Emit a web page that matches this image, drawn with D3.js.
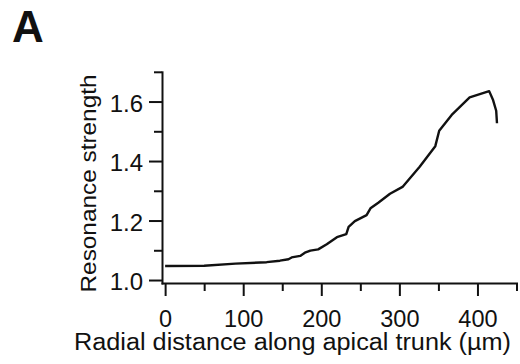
<!DOCTYPE html>
<html>
<head>
<meta charset="utf-8">
<script src="https://cdn.jsdelivr.net/npm/d3@7"></script>
<style>
    body { margin: 0; background: #fff; }
    svg { display: block; }
    text { font-family: "Liberation Sans", Arial, Helvetica, sans-serif; fill: #111; }
</style>
</head>
<body>
<script>
// distance along apical trunk (um) and resonance strength
const distance = [0, 50, 90, 130, 147, 158, 162, 173, 179, 186, 196, 207, 220, 232, 235,
    243, 258, 263, 273, 288, 304, 326, 346, 351, 367, 390, 415, 420, 424, 425];
const strength = [1.047, 1.048, 1.055, 1.060, 1.065, 1.070, 1.076, 1.081, 1.092, 1.099,
    1.103, 1.120, 1.144, 1.154, 1.179, 1.198, 1.218, 1.241, 1.260, 1.290, 1.313, 1.381,
    1.450, 1.502, 1.555, 1.614, 1.635, 1.605, 1.569, 1.527];

const xMajor = [0, 100, 200, 300, 400];
const xMinor = [50, 150, 250, 350, 450];
const yMajor = [1.0, 1.2, 1.4, 1.6];
const yMinor = [1.1, 1.3, 1.5, 1.7];

const xTitle = "Radial distance along apical trunk (µm)";
const yTitle = "Resonance strength";
const panel = "A";

const width = 520, height = 364;

const svg = d3.select("body").append("svg")
    .attr("width", width)
    .attr("height", height);

//scales
const x = d3.scaleLinear().domain([-4, 450]).range([162, 516.5]);
const y = d3.scaleLinear().domain([0.99, 1.7]).range([283, 71.8]);

//the data line
const line = d3.line()
    .x((d, i) => x(distance[i]))
    .y((d, i) => y(strength[i]));

svg.append("path")
    .datum(strength)
    .attr("d", line)
    .attr("fill", "none")
    .attr("stroke", "#111")
    .attr("stroke-width", 2.4)
    .attr("stroke-linejoin", "round");

//x axis, major then minor ticks
const gx = svg.append("g")
    .attr("transform", `translate(0,${y.range()[0]})`)
    .call(d3.axisBottom(x).tickValues(xMajor).tickSize(13).tickSizeOuter(0));
gx.selectAll(".tick text")
    .attr("y", 43.5)
    .attr("dy", 0)
    .style("font-size", "23.5px");

const gxMinor = svg.append("g")
    .attr("transform", `translate(0,${y.range()[0]})`)
    .call(d3.axisBottom(x).tickValues(xMinor).tickSize(8).tickFormat(""));
gxMinor.select(".domain").remove();

//y axis
const gy = svg.append("g")
    .attr("transform", `translate(${x.range()[0]},0)`)
    .call(d3.axisLeft(y).tickValues(yMajor).tickSize(13).tickSizeOuter(0)
        .tickFormat(d3.format(".1f")));
gy.selectAll(".tick text")
    .attr("x", -19)
    .attr("dy", "0.4em")
    .style("font-size", "24px");

const gyMinor = svg.append("g")
    .attr("transform", `translate(${x.range()[0]},0)`)
    .call(d3.axisLeft(y).tickValues(yMinor).tickSize(8).tickFormat(""));
gyMinor.select(".domain").remove();

svg.selectAll(".domain, .tick line")
    .attr("stroke", "#111")
    .attr("stroke-width", 2);
svg.selectAll(".domain").attr("stroke-linecap", "square");

//titles
svg.append("text")
    .attr("x", 292.5)
    .attr("y", 350)
    .attr("text-anchor", "middle")
    .attr("textLength", 437)
    .attr("lengthAdjust", "spacingAndGlyphs")
    .style("font-size", "23px")
    .text(xTitle);

svg.append("text")
    .attr("transform", "translate(95.5,183.5) rotate(-90)")
    .attr("text-anchor", "middle")
    .attr("textLength", 218)
    .attr("lengthAdjust", "spacingAndGlyphs")
    .style("font-size", "22px")
    .text(yTitle);

svg.append("text")
    .attr("x", 12)
    .attr("y", 42)
    .style("font-size", "44px")
    .style("font-weight", "bold")
    .text(panel);
</script>
</body>
</html>
